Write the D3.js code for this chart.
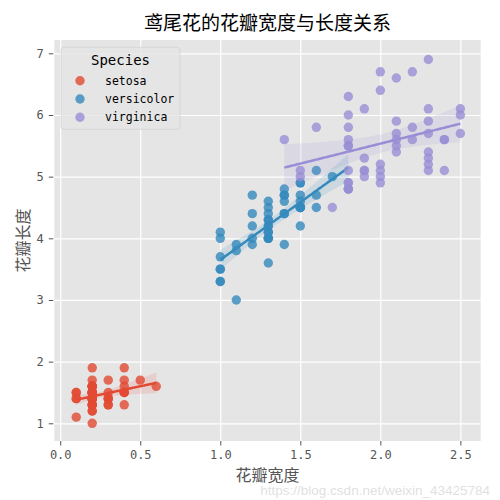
<!DOCTYPE html>
<html>
<head>
<meta charset="utf-8">
<script src="https://cdn.jsdelivr.net/npm/d3@7"></script>
<style>
  body { margin: 0; background: #fff; }
  text { font-family: "DejaVu Sans Mono", "Noto Sans CJK SC", monospace; }
  .cjk { font-family: "Noto Sans CJK SC", sans-serif; }
  .axis path { display: none; }
  .axis line { stroke: #555; }
  .axis text { fill: #555; font-size: 12px; }
  .grid line { stroke: #fff; stroke-width: 1.2; }
  .grid path { display: none; }
</style>
</head>
<body>
<div id="chart"></div>
<script>
const width = 500;
const height = 500;

// iris petal width / length per species
const species = ["setosa", "versicolor", "virginica"];
const colors = ["#E24A33", "#348ABD", "#988ED5"];

const setosaWidth = [0.2,0.2,0.2,0.2,0.2,0.4,0.3,0.2,0.2,0.1,0.2,0.2,0.1,0.1,0.2,0.4,0.4,0.3,0.3,0.3,0.2,0.4,0.2,0.5,0.2,0.2,0.4,0.2,0.2,0.2,0.2,0.4,0.1,0.2,0.2,0.2,0.2,0.1,0.2,0.2,0.3,0.3,0.2,0.6,0.4,0.3,0.2,0.2,0.2,0.2];
const setosaLength = [1.4,1.4,1.3,1.5,1.4,1.7,1.4,1.5,1.4,1.5,1.5,1.6,1.4,1.1,1.2,1.5,1.3,1.4,1.7,1.5,1.7,1.5,1.0,1.7,1.9,1.6,1.6,1.5,1.4,1.6,1.6,1.5,1.5,1.4,1.5,1.2,1.3,1.4,1.3,1.5,1.3,1.3,1.3,1.6,1.9,1.4,1.6,1.4,1.5,1.4];
const versicolorWidth = [1.4,1.5,1.5,1.3,1.5,1.3,1.6,1.0,1.3,1.4,1.0,1.5,1.0,1.4,1.3,1.4,1.5,1.0,1.5,1.1,1.8,1.3,1.5,1.2,1.3,1.4,1.4,1.7,1.5,1.0,1.1,1.0,1.2,1.6,1.5,1.6,1.5,1.3,1.3,1.3,1.2,1.4,1.2,1.0,1.3,1.2,1.3,1.3,1.1,1.3];
const versicolorLength = [4.7,4.5,4.9,4.0,4.6,4.5,4.7,3.3,4.6,3.9,3.5,4.2,4.0,4.7,3.6,4.4,4.5,4.1,4.5,3.9,4.8,4.0,4.9,4.7,4.3,4.4,4.8,5.0,4.5,3.5,3.8,3.7,3.9,5.1,4.5,4.5,4.7,4.4,4.1,4.0,4.4,4.6,4.0,3.3,4.2,4.2,4.2,4.3,3.0,4.1];
const virginicaWidth = [2.5,1.9,2.1,1.8,2.2,2.1,1.7,1.8,1.8,2.5,2.0,1.9,2.1,2.0,2.4,2.3,1.8,2.2,2.3,1.5,2.3,2.0,2.0,1.8,2.1,1.8,1.8,1.8,2.1,1.6,1.9,2.0,2.2,1.5,1.4,2.3,2.4,1.8,1.8,2.1,2.4,2.3,1.9,2.3,2.5,2.3,1.9,2.0,2.3,1.8];
const virginicaLength = [6.0,5.1,5.9,5.6,5.8,6.6,4.5,6.3,5.8,6.1,5.1,5.3,5.5,5.0,5.1,5.3,5.5,6.7,6.9,5.0,5.7,4.9,6.7,4.9,5.7,6.0,4.8,4.9,5.6,5.8,6.1,6.4,5.6,5.1,5.6,6.1,5.6,5.5,4.8,5.4,5.6,5.1,5.1,5.9,5.7,5.2,5.0,5.2,5.4,5.1];

const xTicks = [0.0, 0.5, 1.0, 1.5, 2.0, 2.5];
const yTicks = [1, 2, 3, 4, 5, 6, 7];

const groups = [
    { name: species[0], color: colors[0], w: setosaWidth, l: setosaLength },
    { name: species[1], color: colors[1], w: versicolorWidth, l: versicolorLength },
    { name: species[2], color: colors[2], w: virginicaWidth, l: virginicaLength }
];

const svg = d3.select("#chart")
    .append("svg")
    .attr("width", width)
    .attr("height", height);

const x = d3.scaleLinear()
    .domain([-0.037, 2.627])
    .range([54.3, 480.7]);

const y = d3.scaleLinear()
    .domain([0.713, 7.216])
    .range([441, 40]);

// BACKGROUND
svg.append("rect")
    .attr("x", x.range()[0])
    .attr("y", y.range()[1])
    .attr("width", x.range()[1] - x.range()[0])
    .attr("height", y.range()[0] - y.range()[1])
    .attr("fill", "#E5E5E5");

// GRID
svg.append("g")
    .attr("class", "grid")
    .attr("transform", `translate(0,${y.range()[1]})`)
    .call(d3.axisBottom(x).tickValues(xTicks)
        .tickSize(y.range()[0] - y.range()[1]).tickFormat(""));

svg.append("g")
    .attr("class", "grid")
    .attr("transform", `translate(${x.range()[0]},0)`)
    .call(d3.axisRight(y).tickValues(yTicks)
        .tickSize(x.range()[1] - x.range()[0]).tickFormat(""));

// AXES
svg.append("g")
    .attr("class", "axis")
    .attr("transform", `translate(0,${y.range()[0]})`)
    .call(d3.axisBottom(x).tickValues(xTicks).tickSize(4.5).tickSizeOuter(0)
        .tickPadding(5).tickFormat(d3.format(".1f")));

svg.append("g")
    .attr("class", "axis")
    .attr("transform", `translate(${x.range()[0] - 1},0)`)
    .call(d3.axisLeft(y).tickValues(yTicks).tickSize(4.5).tickSizeOuter(0)
        .tickPadding(5).tickFormat(d3.format("d")));

// REGRESSION FIT WITH 95% BAND
function fit(g) {
    const n = g.w.length;
    const xm = d3.mean(g.w), ym = d3.mean(g.l);
    let sxx = 0, sxy = 0;
    g.w.forEach((v, i) => {
        sxx += (v - xm) ** 2;
        sxy += (v - xm) * (g.l[i] - ym);
    });
    const b = sxy / sxx, a = ym - b * xm;
    const sse = d3.sum(g.w, (v, i) => (g.l[i] - (a + b * v)) ** 2);
    const s = Math.sqrt(sse / (n - 2));
    const [x0, x1] = d3.extent(g.w);
    const pts = d3.range(100).map(i => {
        const xv = x0 + (x1 - x0) * i / 99;
        const yh = a + b * xv;
        const se = s * Math.sqrt(1 / n + (xv - xm) ** 2 / sxx);
        return { x: xv, y: yh, lo: yh - 2.01 * se, hi: yh + 2.01 * se };
    });
    return pts;
}

groups.forEach(g => {
    const pts = g.w.map((v, i) => ({ w: v, l: g.l[i] }));

    svg.append("g")
        .selectAll("circle")
        .data(pts)
        .enter()
        .append("circle")
        .attr("cx", d => x(d.w))
        .attr("cy", d => y(d.l))
        .attr("r", 4.7)
        .attr("fill", g.color)
        .attr("fill-opacity", 0.8);

    const f = fit(g);

    svg.append("path")
        .datum(f)
        .attr("fill", g.color)
        .attr("fill-opacity", 0.15)
        .attr("d", d3.area().x(d => x(d.x)).y0(d => y(d.lo)).y1(d => y(d.hi)));

    svg.append("path")
        .datum(f)
        .attr("fill", "none")
        .attr("stroke", g.color)
        .attr("stroke-width", 2.5)
        .attr("d", d3.line().x(d => x(d.x)).y(d => y(d.y)));
});

// TITLE AND LABELS
svg.append("text")
    .attr("class", "cjk")
    .attr("x", 267.5)
    .attr("y", 30)
    .attr("text-anchor", "middle")
    .style("font-size", "19px")
    .style("fill", "#000")
    .text("鸢尾花的花瓣宽度与长度关系");

svg.append("text")
    .attr("class", "cjk")
    .attr("x", 267.5)
    .attr("y", 481)
    .attr("text-anchor", "middle")
    .style("font-size", "16px")
    .style("fill", "#555")
    .text("花瓣宽度");

svg.append("text")
    .attr("class", "cjk")
    .attr("transform", "translate(29,240.5) rotate(-90)")
    .attr("text-anchor", "middle")
    .style("font-size", "16px")
    .style("fill", "#555")
    .text("花瓣长度");

// LEGEND
const legend = svg.append("g");

legend.append("rect")
    .attr("x", 61)
    .attr("y", 47.3)
    .attr("width", 119)
    .attr("height", 82)
    .attr("rx", 3)
    .attr("fill", "#E5E5E5")
    .attr("fill-opacity", 0.8)
    .attr("stroke", "#d3d3d3")
    .attr("stroke-width", 0.8);

legend.append("text")
    .attr("x", 120.5)
    .attr("y", 65)
    .attr("text-anchor", "middle")
    .style("font-size", "14px")
    .style("fill", "#000")
    .text("Species");

groups.forEach((g, i) => {
    const cy = 80.7 + i * 18.3;
    legend.append("circle")
        .attr("cx", 80)
        .attr("cy", cy)
        .attr("r", 4.7)
        .attr("fill", g.color)
        .attr("fill-opacity", 0.8);
    legend.append("text")
        .attr("x", 105)
        .attr("y", cy + 4)
        .style("font-size", "11.5px")
        .style("fill", "#000")
        .text(g.name);
});

// WATERMARK
svg.append("text")
    .attr("x", 490)
    .attr("y", 495)
    .attr("text-anchor", "end")
    .style("font-family", "'Liberation Sans', sans-serif")
    .style("font-size", "13.5px")
    .style("fill", "#d8d8d8")
    .style("fill-opacity", 0.8)
    .text("https://blog.csdn.net/weixin_43425784");
</script>
</body>
</html>
